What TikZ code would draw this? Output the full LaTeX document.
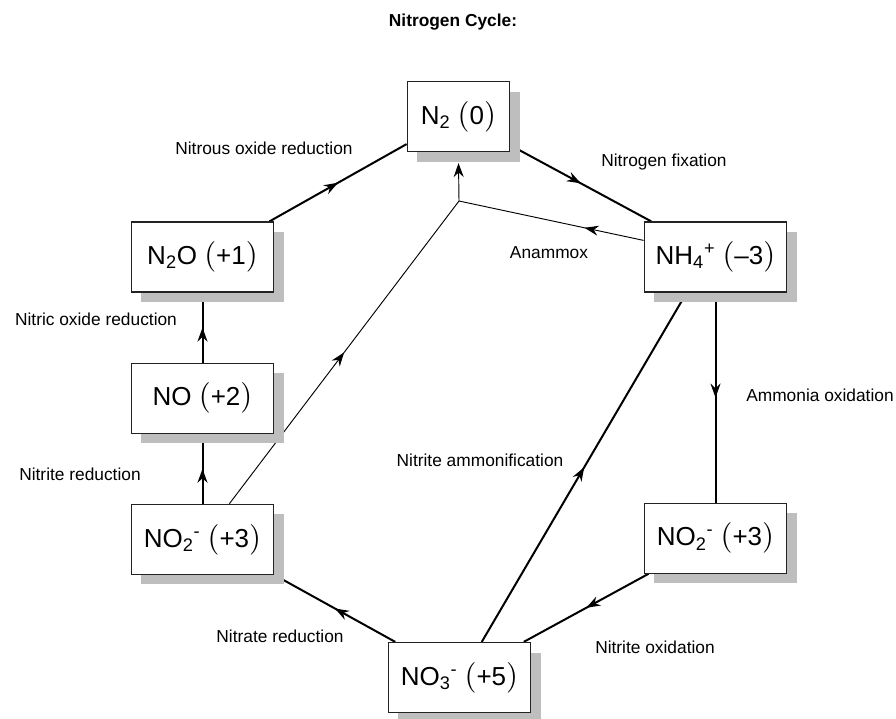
\documentclass[tikz,border=0pt]{standalone}
\usepackage{fontspec}
\setmainfont{Liberation Sans}
\newfontfamily\lmr{lmroman10-regular.otf}
\usetikzlibrary{arrows.meta,positioning,calc,backgrounds,shadows,decorations.markings}
\definecolor{boxline}{RGB}{35,35,35}
\definecolor{shadeclr}{RGB}{190,190,190}
\definecolor{lineclr}{RGB}{0,0,0}
\tikzset{
  %% species box with grey drop shadow
  spbox/.style={rectangle,draw=boxline,line width=0.9pt,fill=white,
    minimum width=107pt,minimum height=52.5pt,inner sep=2pt,
    font=\fontsize{19.5}{22}\selectfont,
    drop shadow={shadow xshift=7.5pt,shadow yshift=-7.5pt,fill=shadeclr,opacity=1}},
  %% process label
  plbl/.style={font=\fontsize{13}{15}\selectfont,text=black},
  %% arrow tip placed along the path
  midtip/.style={postaction={decorate},decoration={markings,
    mark=at position #1 with {\arrow{Stealth[length=10.5pt,width=7.5pt,inset=3.5pt]}}}},
  midtip/.default=0.5,
  %% heavy / light paths
  hvy/.style={line width=1.5pt,color=lineclr},
  lgt/.style={line width=0.7pt,color=lineclr},
}
% oxidation state in tall roman brackets
\newcommand{\ox}[1]{{\lmr\fontsize{23}{23}\selectfont(}#1{\lmr\fontsize{23}{23}\selectfont)}}

\begin{document}
\begin{tikzpicture}[x=0.75pt,y=-0.75pt]
  \useasboundingbox (0,0) rectangle (896,718);

  \node[font=\fontsize{13}{15}\selectfont\bfseries] (title) at (453,22) {Nitrogen Cycle:};

  % species boxes
  \node[spbox,minimum width=77pt] (n2) at (458.5,116.5) {N\textsubscript{2} \ox{0}};
  \node[spbox] (n2o) at (202.5,257) {N\textsubscript{2}O \ox{+1}};
  \node[spbox,below=52.5pt of n2o] (no) {NO \ox{+2}};
  \node[spbox,below=52.5pt of no] (no2a) {NO\textsubscript{2}\textsuperscript{-} \ox{+3}};
  \node[spbox] (nh4) at (715.5,257) {NH\textsubscript{4}\textsuperscript{+} \ox{\textendash3}};
  \node[spbox,below=157.5pt of nh4] (no2b) {NO\textsubscript{2}\textsuperscript{-} \ox{+3}};
  \node[spbox] (no3) at (459.5,677.5) {NO\textsubscript{3}\textsuperscript{-} \ox{+5}};
  \coordinate (mix) at (459,201);

  % process labels
  \node[plbl] (l-n2o) at (264,148) {Nitrous oxide reduction};
  \node[plbl] (l-fix) at (664,162) {Nitrogen fixation};
  \node[plbl] (l-amx) at (549,253) {Anammox};
  \node[plbl] (l-no)  at (96,319)  {Nitric oxide reduction};
  \node[plbl] (l-amo) at (820,395) {Ammonia oxidation};
  \node[plbl] (l-dnra) at (480,460) {Nitrite ammonification};
  \node[plbl] (l-nir) at (80,474)  {Nitrite reduction};
  \node[plbl] (l-nar) at (280,636) {Nitrate reduction};
  \node[plbl] (l-nxr) at (655,647) {Nitrite oxidation};

  % connectors behind the boxes
  \begin{scope}[on background layer]
    \draw[hvy,midtip] (n2o.28.5) -- (n2.208);
    \draw[hvy,midtip] (n2.331) -- (nh4.151);
    \draw[lgt,midtip=0.32] (nh4.167) -- (mix);
    \draw[lgt,midtip] (no2a.53) -- (mix);
    \draw[hvy,midtip] (no.north) -- (n2o.south);
    \draw[hvy,midtip] (no2a.north) -- (no.south);
    \draw[hvy,midtip] (nh4.south) -- (no2b.north);
    \draw[hvy,midtip] (no2b.208) -- (no3.29.2);
    \draw[hvy,midtip] (no3.151.2) -- (no2a.south east);
    \draw[hvy,midtip] (no3.58.8) -- (nh4.231.8);
  \end{scope}
  \draw[lgt,-{Stealth[length=10.5pt,width=7.5pt,inset=3.5pt]}] (mix) -- ($(n2.south)+(0,11)$);
\end{tikzpicture}
\end{document}
